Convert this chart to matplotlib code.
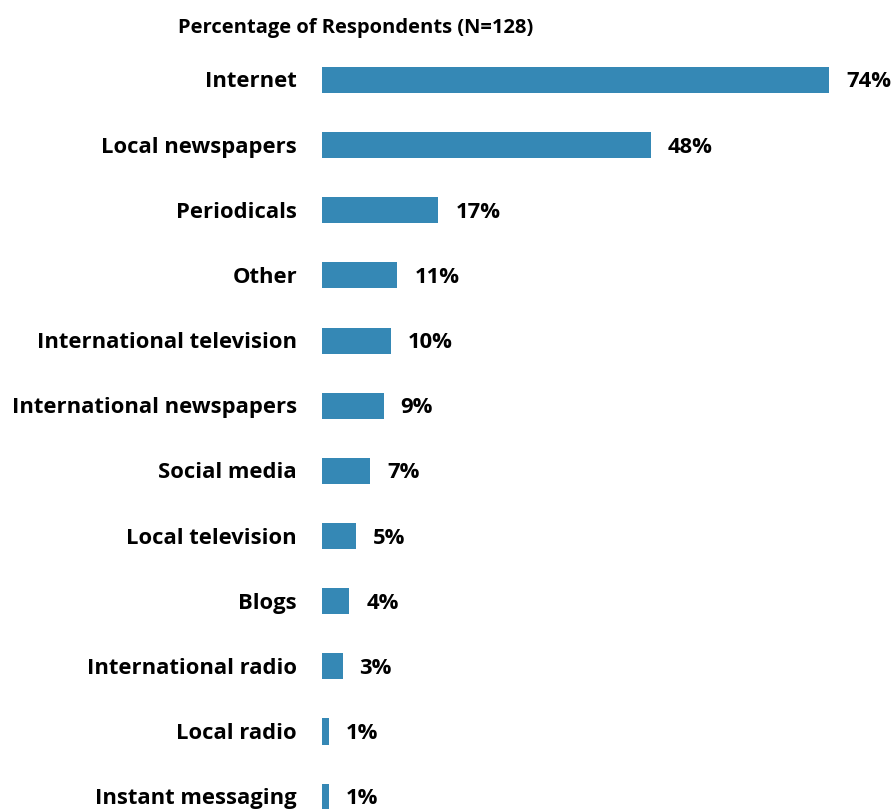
import matplotlib
matplotlib.use('Agg')
import matplotlib.pyplot as plt

plt.rcParams['font.family'] = ['Open Sans', 'DejaVu Sans']

categories = ['Internet', 'Local newspapers', 'Periodicals', 'Other',
              'International television', 'International newspapers',
              'Social media', 'Local television', 'Blogs',
              'International radio', 'Local radio', 'Instant messaging']
percent = [74, 48, 17, 11, 10, 9, 7, 5, 4, 3, 1, 1]

bar_color = '#3588b5'

W, H = 894, 809
fig = plt.figure(figsize=(W / 100, H / 100), dpi=100)

# axes placed in pixel terms: bars start at x=322, rows every ~65px
ax_left, ax_right = 322, 890
ax_top, ax_bottom = 47, 809
ax = fig.add_axes([ax_left / W, 1 - ax_bottom / H,
                   (ax_right - ax_left) / W, (ax_bottom - ax_top) / H])

px_per_pct = (829 - 322) / 74
row = 65.15
ax.set_xlim(0, (ax_right - ax_left) / px_per_pct)
ax.set_ylim((ax_bottom - 80) / row, (ax_top - 80) / row)

ypos = list(range(len(categories)))
ax.barh(ypos, percent, height=0.4, color=bar_color, clip_on=False)

for y, v, name in zip(ypos, percent, categories):
    ax.annotate(f'{v}%', (v, y), xytext=(17, -2), textcoords='offset pixels',
                ha='left', va='center', fontsize=15.8, fontweight='bold')
    ax.annotate(name, (0, y), xytext=(-25, -2), textcoords='offset pixels',
                ha='right', va='center', fontsize=15.8, fontweight='bold',
                annotation_clip=False)

ax.axis('off')

fig.text(178 / W, 1 - 28 / H, 'Percentage of Respondents (N=128)',
         ha='left', va='center', fontsize=14.5, fontweight='bold')

fig.savefig('out.png', dpi=100)
